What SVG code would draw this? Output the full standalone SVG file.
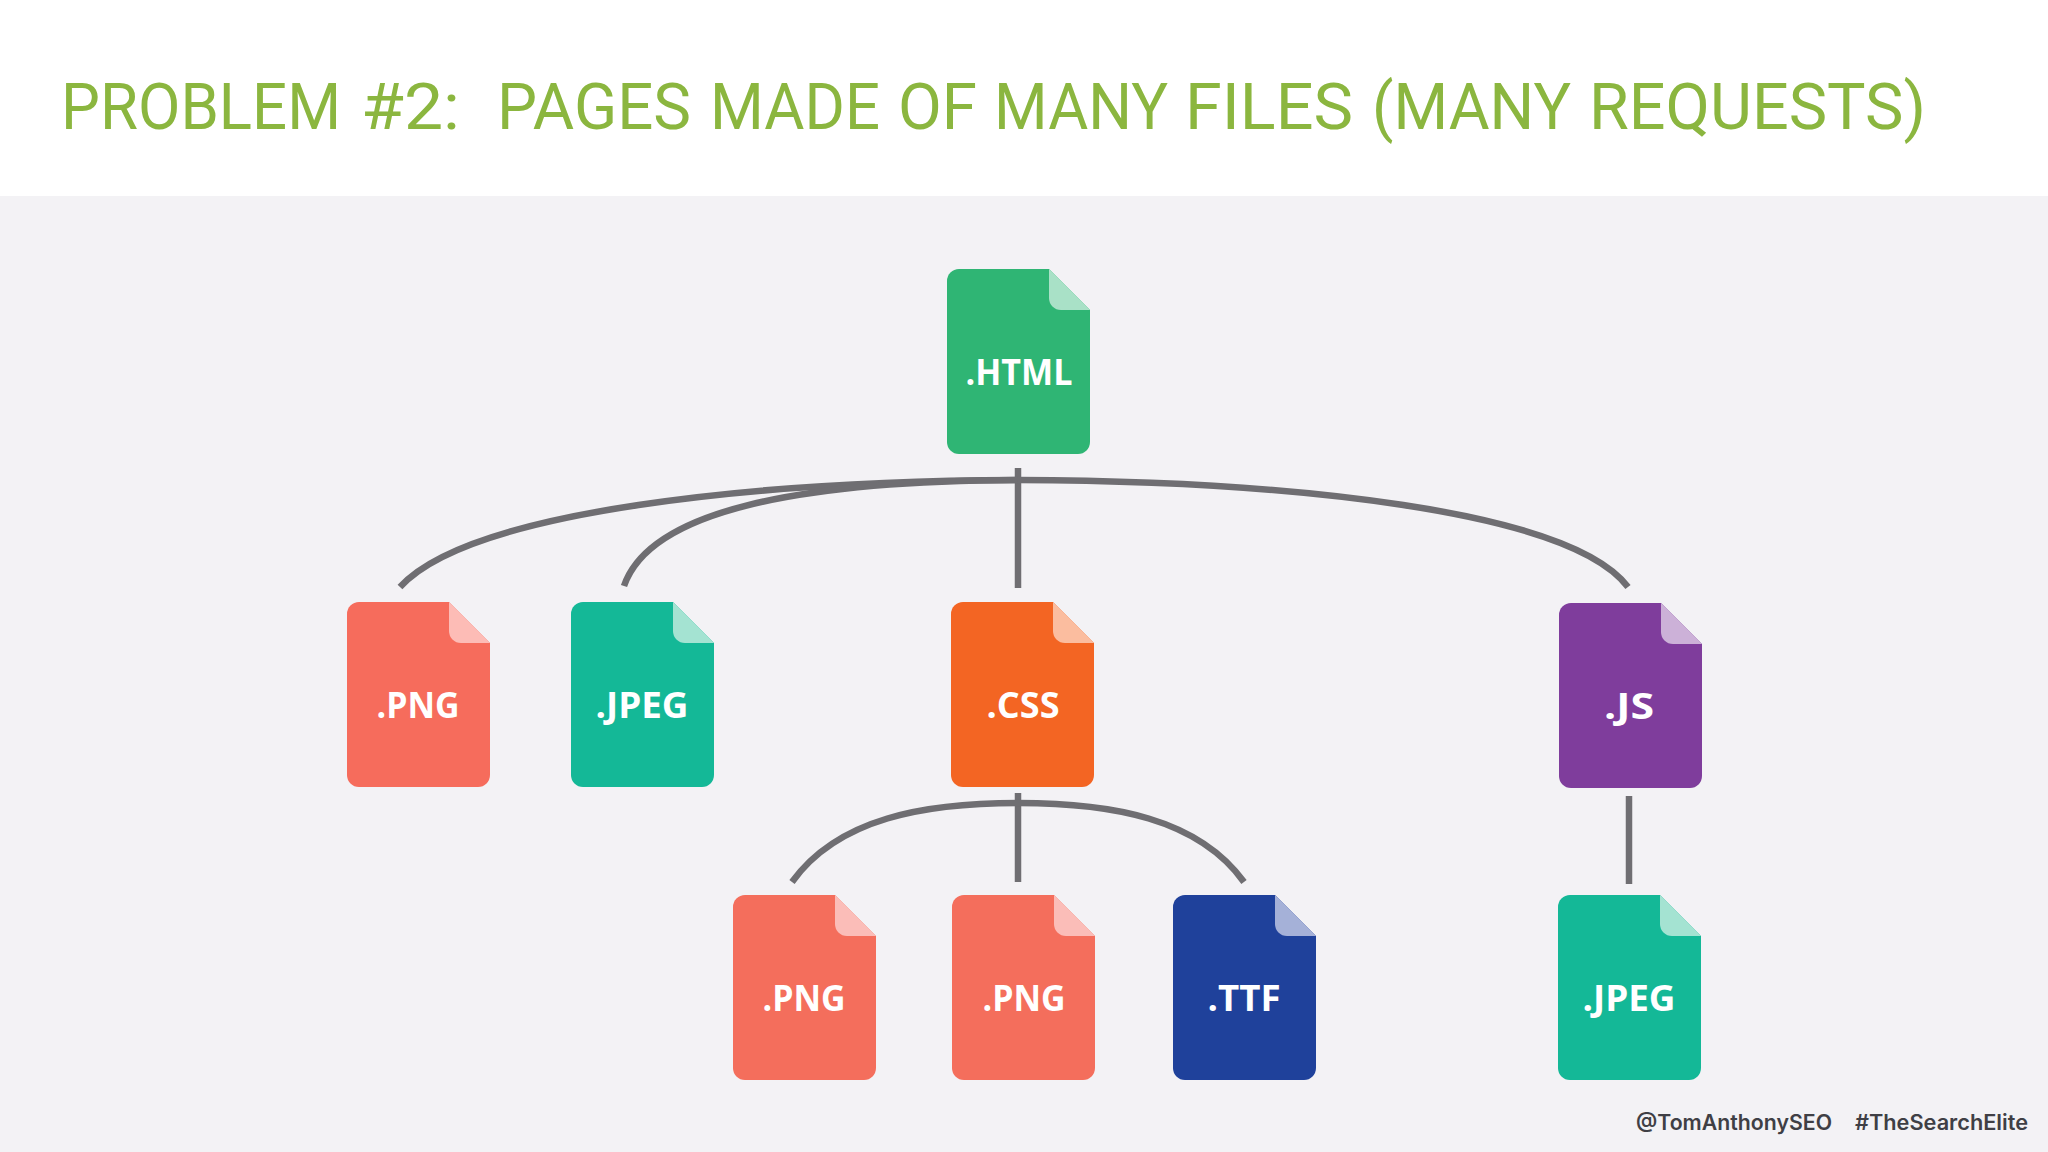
<svg xmlns="http://www.w3.org/2000/svg" width="2048" height="1152" viewBox="0 0 2048 1152">
<style>
.title{font-family:"Roboto","Liberation Sans",sans-serif;font-size:64px;fill:#8bb63f}
.lbl{font-family:"Open Sans","Noto Sans",sans-serif;font-weight:700;font-size:35px;fill:#fff;text-anchor:middle}
.foot{font-family:"Inter","Liberation Sans",sans-serif;font-weight:600;font-size:21px;fill:#3f3f45}
.conn{fill:none;stroke:#6f6e72;stroke-width:6.5}
</style>
<defs>
<path id="body" d="M12 0H102L143 41V173a12 12 0 0 1-12 12H12a12 12 0 0 1-12-12V12a12 12 0 0 1 12-12Z"/>
<path id="fold" d="M102 0L143 41H114a12 12 0 0 1-12-12Z"/>
</defs>
<rect width="2048" height="1152" fill="#f3f2f5"/>
<rect width="2048" height="196" fill="#fff"/>
<text class="title" y="129" lengthAdjust="spacingAndGlyphs"><tspan x="61" textLength="280" lengthAdjust="spacingAndGlyphs">PROBLEM</tspan> <tspan x="361" textLength="99" lengthAdjust="spacingAndGlyphs">#2:</tspan> <tspan x="497" textLength="194" lengthAdjust="spacingAndGlyphs">PAGES</tspan> <tspan x="710" textLength="170" lengthAdjust="spacingAndGlyphs">MADE</tspan> <tspan x="898" textLength="79" lengthAdjust="spacingAndGlyphs">OF</tspan> <tspan x="994" textLength="174" lengthAdjust="spacingAndGlyphs">MANY</tspan> <tspan x="1185" textLength="168" lengthAdjust="spacingAndGlyphs">FILES</tspan> <tspan x="1372" textLength="199" lengthAdjust="spacingAndGlyphs">(MANY</tspan> <tspan x="1589" textLength="337" lengthAdjust="spacingAndGlyphs">REQUESTS)</tspan></text>
<g id="connectors">
<path class="conn" d="M1018 468V588"/>
<path class="conn" d="M400 587C470 510 760 481 1018 480"/>
<path class="conn" d="M624 586C650 510 800 481 1018 480"/>
<path class="conn" d="M1628 587C1570 510 1290 481 1018 480"/>
<path class="conn" d="M1018 793V882"/>
<path class="conn" d="M792 882C838 818 925 803 1018 803C1111 803 1198 818 1244 882"/>
<path class="conn" d="M1629 796V884"/>
</g>
<g id="html" transform="translate(947 269)"><use href="#body" fill="#2fb574"/><use href="#fold" fill="#a9e1c7"/><text class="lbl" x="72" y="116" textLength="107" lengthAdjust="spacingAndGlyphs">.HTML</text></g>
<g id="png1" transform="translate(347 602)"><use href="#body" fill="#f66c5c"/><use href="#fold" fill="#fdbcb6"/><text class="lbl" x="71" y="116" textLength="83" lengthAdjust="spacingAndGlyphs">.PNG</text></g>
<g id="jpeg1" transform="translate(571 602)"><use href="#body" fill="#14b897"/><use href="#fold" fill="#a4e3d2"/><text class="lbl" x="71" y="116" textLength="93" lengthAdjust="spacingAndGlyphs">.JPEG</text></g>
<g id="css" transform="translate(951 602)"><use href="#body" fill="#f36523"/><use href="#fold" fill="#fbbd9f"/><text class="lbl" x="72" y="116" textLength="73" lengthAdjust="spacingAndGlyphs">.CSS</text></g>
<g id="js" transform="translate(1559 603)"><use href="#body" fill="#7f3d9c"/><use href="#fold" fill="#ccb1d8"/><text class="lbl" x="70" y="116" textLength="50" lengthAdjust="spacingAndGlyphs">.JS</text></g>
<g id="png2" transform="translate(733 895)"><use href="#body" fill="#f46e5c"/><use href="#fold" fill="#fbbdb8"/><text class="lbl" x="71" y="116" textLength="83" lengthAdjust="spacingAndGlyphs">.PNG</text></g>
<g id="png3" transform="translate(952 895)"><use href="#body" fill="#f46e5c"/><use href="#fold" fill="#fbbdb8"/><text class="lbl" x="72" y="116" textLength="83" lengthAdjust="spacingAndGlyphs">.PNG</text></g>
<g id="ttf" transform="translate(1173 895)"><use href="#body" fill="#1f419b"/><use href="#fold" fill="#a5b1d8"/><text class="lbl" x="71" y="116" textLength="73" lengthAdjust="spacingAndGlyphs">.TTF</text></g>
<g id="jpeg2" transform="translate(1558 895)"><use href="#body" fill="#14b897"/><use href="#fold" fill="#a4e3d2"/><text class="lbl" x="71" y="116" textLength="93" lengthAdjust="spacingAndGlyphs">.JPEG</text></g>
<text class="foot" x="1636" y="1130" textLength="196" lengthAdjust="spacingAndGlyphs">@TomAnthonySEO</text>
<text class="foot" x="1855" y="1130" textLength="173" lengthAdjust="spacingAndGlyphs">#TheSearchElite</text>
</svg>
